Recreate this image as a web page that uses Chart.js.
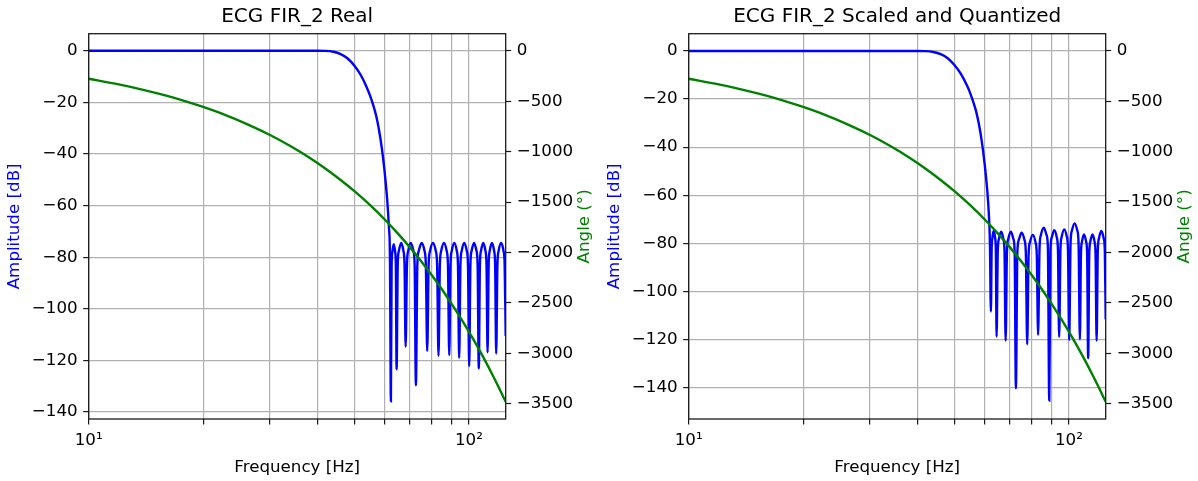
<!DOCTYPE html>
<html lang="en">
<head>
    <meta charset="UTF-8">
    <title>ECG FIR_2 Frequency Response</title>
    <script src="https://cdn.jsdelivr.net/npm/chart.js"></script>
    <style>
        html, body {
            margin: 0;
            padding: 0;
            background: #fff;
            overflow: hidden;
        }
        .plot {
            position: absolute;
            top: 0;
        }
        #realPlot { left: 0; }
        #quantPlot { left: 600px; }
    </style>
</head>
<body>
    <canvas id="realPlot" class="plot" width="600" height="481"></canvas>
    <canvas id="quantPlot" class="plot" width="600" height="481"></canvas>

    <script>
        // Axis ticks
        const xGridHz = [10, 20, 30, 40, 50, 60, 70, 80, 90, 100];
        const ampTicks = [0, -20, -40, -60, -80, -100, -120, -140];
        const angleTicks = [0, -500, -1000, -1500, -2000, -2500, -3000, -3500];

        // Unwrapped phase (degrees), same for both filters
        const phaseHz = [10, 12, 14, 16, 18, 20, 23, 26, 30, 34, 38, 42, 46, 50, 55, 60,
                         65, 70, 75, 80, 85, 90, 95, 100, 105, 110, 115, 120, 125];
        const phaseDeg = [-278, -334, -390, -445, -501, -557, -640, -724, -835, -947, -1058,
                          -1169, -1281, -1392, -1531, -1670, -1810, -1949, -2088, -2227, -2366,
                          -2506, -2645, -2784, -2923, -3062, -3202, -3341, -3480];

        // Passband and transition band (dB)
        const passHz = [10, 40, 42, 44, 46, 48, 50, 52, 54, 55, 56, 57, 58, 59, 60, 61, 61.6, 62.0];
        const passDb = [0, 0, -0.05, -0.4, -1.3, -3.0, -5.8, -9.5, -14.5, -17.5, -21.0, -25.0,
                        -30.5, -37.5, -46.5, -58.0, -68.0, -80.0];

        // Stopband, real coefficients
        const realStopHz = [
            62.36, 62.63, 62.91, 63.46, 64.00, 64.27,
            64.55, 65.00, 65.46, 66.37, 67.27, 67.73,
            68.18, 68.73, 69.28, 70.37, 71.47, 72.01,
            72.56, 73.20, 73.85, 75.13, 76.42, 77.06,
            77.70, 78.39, 79.08, 80.45, 81.83, 82.51,
            83.20, 83.90, 84.60, 86.00, 87.40, 88.10,
            88.80, 89.49, 90.18, 91.55, 92.93, 93.61,
            94.30, 95.04, 95.78, 97.25, 98.73, 99.46,
            100.2, 100.95, 101.7, 103.2, 104.7, 105.45,
            106.2, 106.93, 107.65, 109.1, 110.55, 111.28,
            112.0, 112.75, 113.5, 115.0, 116.5, 117.25,
            118.0, 118.89, 119.78, 121.55, 123.33, 124.21,
            125.0
        ];
        const realStopDb = [
            -135.8, -83.3, -78.0, -75.0, -78.0, -83.3,
            -123.4, -82.8, -77.5, -74.5, -77.5, -82.8,
            -114.7, -82.8, -77.5, -74.5, -77.5, -82.8,
            -129.6, -82.8, -77.5, -74.5, -77.5, -82.8,
            -116.4, -82.8, -77.5, -74.5, -77.5, -82.8,
            -118.2, -82.8, -77.5, -74.5, -77.5, -82.8,
            -117.9, -82.8, -77.5, -74.5, -77.5, -82.8,
            -119.0, -82.8, -77.5, -74.5, -77.5, -82.8,
            -122.2, -82.8, -77.5, -74.5, -77.5, -82.8,
            -123.1, -82.8, -77.5, -74.5, -77.5, -82.8,
            -116.9, -82.8, -77.5, -74.5, -77.5, -82.8,
            -117.3, -82.8, -77.5, -74.5, -77.5, -82.8,
            -110.5
        ];

        // Stopband, scaled and quantized coefficients
        const quantStopHz = [
            62.36, 62.63, 62.91, 63.46, 64.00, 64.27,
            64.55, 65.00, 65.46, 66.37, 67.27, 67.73,
            68.18, 68.73, 69.28, 70.37, 71.47, 72.01,
            72.56, 73.20, 73.85, 75.13, 76.42, 77.06,
            77.70, 78.36, 79.03, 80.35, 81.68, 82.34,
            83.00, 83.73, 84.45, 85.90, 87.35, 88.08,
            88.80, 89.49, 90.18, 91.55, 92.93, 93.61,
            94.30, 95.04, 95.78, 97.25, 98.73, 99.46,
            100.2, 101.04, 101.88, 103.55, 105.23, 106.06,
            106.9, 107.59, 108.28, 109.65, 111.03, 111.71,
            112.4, 113.14, 113.88, 115.35, 116.83, 117.56,
            118.3, 119.16, 120.03, 121.75, 123.48, 124.34,
            125.0
        ];
        const quantStopDb = [
            -108.4, -83.2, -77.9, -74.9, -77.9, -83.2,
            -118.8, -83.5, -78.2, -75.2, -78.2, -83.5,
            -120.5, -83.5, -78.2, -75.2, -78.2, -83.5,
            -140.3, -83.9, -78.6, -75.6, -78.6, -83.9,
            -122.0, -84.8, -79.5, -76.5, -79.5, -84.8,
            -118.1, -81.8, -76.5, -73.5, -76.5, -81.8,
            -145.4, -82.8, -77.5, -74.5, -77.5, -82.8,
            -119.0, -82.5, -77.2, -74.2, -77.2, -82.5,
            -120.2, -80.0, -74.7, -71.7, -74.7, -80.0,
            -119.9, -84.6, -79.3, -76.3, -79.3, -84.6,
            -127.8, -84.6, -79.3, -76.3, -79.3, -84.6,
            -120.5, -83.2, -77.9, -74.9, -77.9, -83.2,
            -111.6
        ];

        const FONT = 'DejaVu Sans';
        const LABEL_SIZE = 16.7;
        const toPoints = (xs, ys) => xs.map((x, i) => ({x: x, y: ys[i]}));
        const minus = v => String(v).replace('-', '\u2212');

        // axes frame on all four sides, plus the right-hand label reading upwards
        const framePlugin = {
            id: 'frame',
            afterDatasetsDraw(chart) {
                const {ctx, chartArea: a} = chart;
                ctx.save();
                ctx.strokeStyle = '#1a1a1a';
                ctx.lineWidth = 1.3;
                ctx.strokeRect(a.left, a.top, a.right - a.left, a.bottom - a.top);
                ctx.restore();
            },
            afterDraw(chart) {
                const {ctx, chartArea: a} = chart;
                ctx.save();
                ctx.translate(chart.width - 15, (a.top + a.bottom) / 2);
                ctx.rotate(-Math.PI / 2);
                ctx.fillStyle = '#008000';
                ctx.font = LABEL_SIZE + 'px "' + FONT + '"';
                ctx.textAlign = 'center';
                ctx.textBaseline = 'middle';
                ctx.fillText('Angle (\u00b0)', 0, 0);
                ctx.restore();
            }
        };

        const tickFont = {family: FONT, size: LABEL_SIZE};
        const gridStyle = {color: '#b0b0b0', lineWidth: 1.2, tickLength: 5.5, tickColor: '#1a1a1a', tickWidth: 1.2};

        function makeChart(id, titleText, stopHz, stopDb, ampMin, ampMax) {
            const ampHz = passHz.concat(stopHz);
            const ampDb = passDb.concat(stopDb);
            return new Chart(document.getElementById(id), {
                type: 'line',
                data: {
                    datasets: [
                        {
                            label: 'Angle',
                            data: toPoints(phaseHz, phaseDeg),
                            yAxisID: 'y2',
                            borderColor: '#008000',
                            borderWidth: 2.4,
                            pointRadius: 0,
                            cubicInterpolationMode: 'monotone'
                        },
                        {
                            label: 'Amplitude',
                            data: toPoints(ampHz, ampDb),
                            yAxisID: 'y',
                            borderColor: '#0000ff',
                            borderWidth: 2.4,
                            pointRadius: 0,
                            cubicInterpolationMode: 'monotone'
                        }
                    ]
                },
                options: {
                    responsive: false,
                    animation: false,
                    events: [],
                    layout: {padding: 0},
                    plugins: {
                        legend: {display: false},
                        tooltip: {enabled: false},
                        title: {
                            display: true,
                            text: titleText,
                            color: '#000',
                            fullSize: false,
                            font: {family: FONT, size: 20, weight: 'normal', lineHeight: 1.2},
                            padding: {top: 5, bottom: 4.7}
                        }
                    },
                    scales: {
                        x: {
                            type: 'logarithmic',
                            position: 'bottom',
                            min: 10,
                            max: 125,
                            afterBuildTicks: s => { s.ticks = xGridHz.map(v => ({value: v})); },
                            afterFit: s => { s.height = 62; },
                            border: {display: false},
                            grid: gridStyle,
                            ticks: {
                                autoSkip: false,
                                maxRotation: 0,
                                padding: 6,
                                color: '#000',
                                font: tickFont,
                                callback: v => v === 10 ? '10\u00b9' : (v === 100 ? '10\u00b2' : '')
                            },
                            title: {
                                display: true,
                                text: 'Frequency [Hz]',
                                color: '#000',
                                font: tickFont,
                                padding: {top: 0, bottom: 3}
                            }
                        },
                        y: {
                            type: 'linear',
                            position: 'left',
                            min: ampMin,
                            max: ampMax,
                            afterBuildTicks: s => { s.ticks = ampTicks.map(v => ({value: v})); },
                            afterFit: s => { s.width = 88.7; },
                            border: {display: false},
                            grid: gridStyle,
                            ticks: {
                                padding: 5.5,
                                color: '#000',
                                font: tickFont,
                                callback: minus
                            },
                            title: {
                                display: true,
                                text: 'Amplitude [dB]',
                                color: '#0000ff',
                                font: tickFont,
                                padding: {top: 5, bottom: 0}
                            }
                        },
                        y2: {
                            type: 'linear',
                            position: 'right',
                            min: -3650,
                            max: 169,
                            afterBuildTicks: s => { s.ticks = angleTicks.map(v => ({value: v})); },
                            afterFit: s => { s.width = 94.3; },
                            border: {display: false},
                            grid: {drawOnChartArea: false, tickLength: 5.5, tickColor: '#1a1a1a', tickWidth: 1.2},
                            ticks: {
                                padding: 5.5,
                                color: '#000',
                                font: tickFont,
                                callback: minus
                            }
                        }
                    }
                },
                plugins: [framePlugin]
            });
        }

        makeChart('realPlot', 'ECG FIR_2 Real', realStopHz, realStopDb, -142.7, 6.6);
        makeChart('quantPlot', 'ECG FIR_2 Scaled and Quantized', quantStopHz, quantStopDb, -153.1, 7.2);
    </script>
</body>
</html>
